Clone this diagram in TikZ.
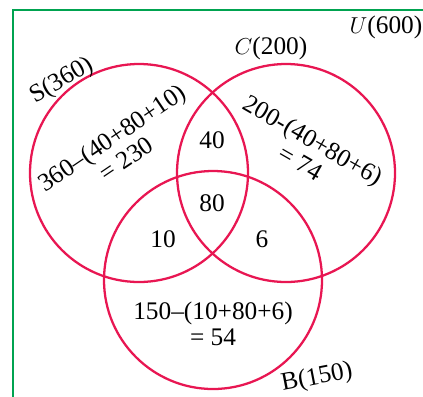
\documentclass[tikz,border=0pt]{standalone}
\usepackage{xcolor}
\usepackage{fontspec}
\setmainfont{Liberation Serif}
\definecolor{setred}{RGB}{232,22,82}
\definecolor{univgreen}{RGB}{0,163,80}

\begin{document}
\begin{tikzpicture}[x=0.75pt,y=-0.75pt,
  setcirc/.style={draw=setred, line width=1.7pt, circle, minimum size=163.5pt, inner sep=0pt},
  lbl/.style={font=\fontsize{19}{19.5}\selectfont, inner sep=0pt, align=center}]
\useasboundingbox (0,0) rectangle (423,396);
\coordinate (ul) at (13,10);
\coordinate (ur) at (425,10);
\coordinate (ll) at (13,398);
\draw[univgreen, line width=1.7pt] (ll) -- (ul) -- (ur);
\node[setcirc] (s) at (139,173) {};
\node[setcirc] (c) at (286,173) {};
\node[setcirc] (b) at (213,280) {};
\node[lbl] (u_lbl) at (386,27) {$U$(600)};
\node[lbl] (c_lbl) at (271,48) {$C$(200)};
\node[lbl, rotate=30] (s_lbl) at (62,81) {S(360)};
\node[lbl, rotate=11] (b_lbl) at (317,378) {B(150)};
\node[lbl, rotate=34] (s_only) at (119,148) {360–(40+80+10)\\= 230};
\node[lbl, rotate=-30] (c_only) at (307,151) {200-(40+80+6)\\= 74};
\node[lbl] (sc) at (212,140) {40};
\node[lbl] (scb) at (212,203) {80};
\node[lbl] (sb) at (163,239) {10};
\node[lbl] (cb) at (262,239) {6};
\node[lbl] (b_only) at (213,324) {150–(10+80+6)\\= 54};
\end{tikzpicture}
\end{document}
